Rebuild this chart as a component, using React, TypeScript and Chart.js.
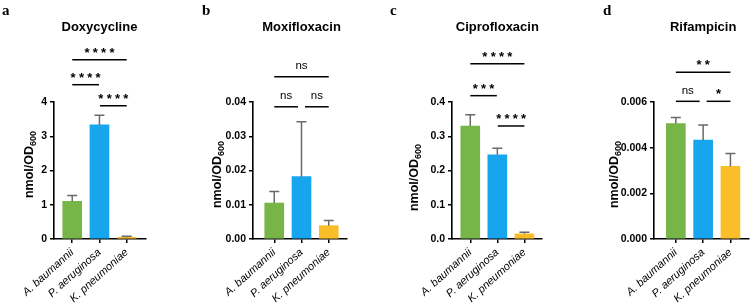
import React, { useEffect, useRef } from "react";
import { Chart, registerables } from "chart.js";

Chart.register(...registerables);

// ---------- data ----------
const CATEGORIES = ["A. baumannii", "P. aeruginosa", "K. pneumoniae"];
const BAR_COLORS = ["#78B548", "#17A5EE", "#FBBE2B"];

const DOXY_MEAN = [1.1, 3.33, 0.05];
const DOXY_SD = [0.17, 0.28, 0.03];
const DOXY_TICKS = [0, 1, 2, 3, 4];

const MOXI_MEAN = [0.0105, 0.0182, 0.0039];
const MOXI_SD = [0.0034, 0.016, 0.0015];
const MOXI_TICKS = [0, 0.01, 0.02, 0.03, 0.04];

const CIPRO_MEAN = [0.33, 0.246, 0.015];
const CIPRO_SD = [0.033, 0.019, 0.005];
const CIPRO_TICKS = [0, 0.1, 0.2, 0.3, 0.4];

const RIF_MEAN = [0.00506, 0.00433, 0.00318];
const RIF_SD = [0.00026, 0.00066, 0.00056];
const RIF_TICKS = [0, 0.002, 0.004, 0.006];

// significance brackets: [from, to, level (data units), label]
const DOXY_SIG: [number, number, number, string][] = [
  [0, 2, 5.235, "****"],
  [0, 1, 4.505, "****"],
  [1, 2, 3.89, "****"],
];
const MOXI_SIG: [number, number, number, string][] = [
  [0, 2, 0.0474, "ns"],
  [0, 1, 0.0386, "ns"],
  [1, 2, 0.0386, "ns"],
];
const CIPRO_SIG: [number, number, number, string][] = [
  [0, 2, 0.512, "****"],
  [0, 1, 0.4185, "***"],
  [1, 2, 0.33, "****"],
];
const RIF_SIG: [number, number, number, string][] = [
  [0, 2, 0.0073, "**"],
  [0, 1, 0.00603, "ns"],
  [1, 2, 0.00603, "*"],
];

const FONT = "'Liberation Sans', Arial, Helvetica, sans-serif";

type PanelCfg = {
  letter: string;
  title: string;
  mean: number[];
  sd: number[];
  ticks: number[];
  decimals: number;
  sig: [number, number, number, string][];
  left: number;
  width: number;
  yW: number;
  padRight: number;
  xMin: number;
  xMax: number;
  letterX: number;
  titleOffset: number;
  titleDy: number;
  gap: number;
};

const PANELS: PanelCfg[] = [
  {
    letter: "a", title: "Doxycycline", mean: DOXY_MEAN, sd: DOXY_SD, ticks: DOXY_TICKS, decimals: 0, sig: DOXY_SIG,
    left: 0, width: 190, yW: 54, padRight: 44, xMin: -0.67, xMax: 2.71, letterX: 2, titleOffset: 24, titleDy: -6, gap: 1,
  },
  {
    letter: "b", title: "Moxifloxacin", mean: MOXI_MEAN, sd: MOXI_SD, ticks: MOXI_TICKS, decimals: 2, sig: MOXI_SIG,
    left: 190, width: 190, yW: 63, padRight: 33, xMin: -0.78, xMax: 2.67, letterX: 12, titleOffset: 35, titleDy: 4, gap: 7,
  },
  {
    letter: "c", title: "Ciprofloxacin", mean: CIPRO_MEAN, sd: CIPRO_SD, ticks: CIPRO_TICKS, decimals: 1, sig: CIPRO_SIG,
    left: 380, width: 190, yW: 72, padRight: 28, xMin: -0.675, xMax: 2.65, letterX: 10, titleOffset: 37, titleDy: 7, gap: 1,
  },
  {
    letter: "d", title: "Rifampicin", mean: RIF_MEAN, sd: RIF_SD, ticks: RIF_TICKS, decimals: 3, sig: RIF_SIG,
    left: 570, width: 181, yW: 84, padRight: 2, xMin: -0.8, xMax: 2.68, letterX: 33, titleOffset: 39, titleDy: 4, gap: 7,
  },
];

function makeDeco(p: PanelCfg) {
  return {
    id: "deco_" + p.letter,
    afterDraw(chart: any) {
      const { ctx, chartArea } = chart;
      const xs = chart.scales.x;
      const ys = chart.scales.y;
      ctx.save();

      // error bars
      ctx.strokeStyle = "#6a6a6a";
      ctx.lineWidth = 1.5;
      p.mean.forEach((m, i) => {
        const px = xs.getPixelForValue(i);
        const yt = ys.getPixelForValue(m);
        const ye = ys.getPixelForValue(m + p.sd[i]);
        ctx.beginPath();
        ctx.moveTo(px, yt);
        ctx.lineTo(px, ye);
        ctx.moveTo(px - 5, ye);
        ctx.lineTo(px + 5, ye);
        ctx.stroke();
      });

      // significance brackets
      ctx.strokeStyle = "#000";
      ctx.fillStyle = "#000";
      ctx.lineWidth = 1.5;
      p.sig.forEach(([from, to, level, label]) => {
        let x1 = xs.getPixelForValue(from);
        let x2 = xs.getPixelForValue(to);
        if (to - from === 1) {
          if (from === 1) x1 += p.gap / 2;
          if (to === 1) x2 -= p.gap / 2;
        }
        const yl = ys.getPixelForValue(level);
        ctx.beginPath();
        ctx.moveTo(x1, yl);
        ctx.lineTo(x2, yl);
        ctx.stroke();
        const cx = (x1 + x2) / 2;
        const ty = yl - 10.5;
        if (label === "ns") {
          ctx.font = `11.5px ${FONT}`;
          ctx.textAlign = "center";
          ctx.textBaseline = "alphabetic";
          ctx.fillText(label, cx, ty + 3);
        } else {
          ctx.font = `bold 13px ${FONT}`;
          ctx.textAlign = "center";
          ctx.textBaseline = "alphabetic";
          const n = label.length;
          for (let k = 0; k < n; k++) {
            const sx = cx + (k - (n - 1) / 2) * 8.3;
            ctx.fillText("*", sx, ty + 7.5);
          }
        }
      });

      // panel title
      ctx.font = `bold 13px ${FONT}`;
      ctx.textAlign = "center";
      ctx.textBaseline = "middle";
      ctx.fillText(p.title, xs.getPixelForValue(1), 27);

      // panel letter
      ctx.font = `bold 15px 'Liberation Serif', 'Times New Roman', serif`;
      ctx.textAlign = "left";
      ctx.textBaseline = "alphabetic";
      ctx.fillText(p.letter, p.letterX, 15);

      // y-axis title with subscript
      const tx = chartArea.left - p.titleOffset;
      const ty = (chartArea.top + chartArea.bottom) / 2 + p.titleDy;
      ctx.translate(tx, ty);
      ctx.rotate(-Math.PI / 2);
      const mainFont = `bold 12.5px ${FONT}`;
      const subFont = `bold 9px ${FONT}`;
      ctx.font = mainFont;
      const w1 = ctx.measureText("nmol/OD").width;
      ctx.font = subFont;
      const w2 = ctx.measureText("600").width;
      const start = -(w1 + w2) / 2;
      ctx.textAlign = "left";
      ctx.textBaseline = "middle";
      ctx.font = mainFont;
      ctx.fillText("nmol/OD", start, 0);
      ctx.font = subFont;
      ctx.fillText("600", start + w1, 3.5);

      ctx.restore();
    },
  };
}

function Panel({ p }: { p: PanelCfg }) {
  const ref = useRef<HTMLCanvasElement | null>(null);
  useEffect(() => {
    if (!ref.current) return;
    const gridOpts = {
      display: true,
      drawOnChartArea: false,
      drawTicks: true,
      tickLength: 4,
      color: "#000",
      lineWidth: 1.5,
      offset: false,
    };
    const borderOpts = { display: true, color: "#000", width: 1.6 };
    const chart = new Chart(ref.current, {
      type: "bar",
      data: {
        datasets: [
          {
            data: p.mean.map((v, i) => ({ x: i, y: v })),
            backgroundColor: BAR_COLORS,
            borderWidth: 0,
            barThickness: 19,
          } as any,
        ],
      },
      options: {
        responsive: false,
        animation: false,
        devicePixelRatio: 1,
        layout: { padding: { top: 102, right: p.padRight, bottom: 0, left: 0 } },
        plugins: {
          legend: { display: false },
          tooltip: { enabled: false },
          title: { display: false },
        },
        scales: {
          x: {
            type: "linear",
            offset: false,
            min: p.xMin,
            max: p.xMax,
            bounds: "data",
            afterBuildTicks: (s: any) => {
              s.ticks = CATEGORIES.map((_, i) => ({ value: i }));
            },
            afterFit: (s: any) => {
              s.height = 66;
            },
            grid: gridOpts,
            border: borderOpts,
            ticks: {
              autoSkip: false,
              minRotation: 42,
              maxRotation: 42,
              padding: 3,
              color: "#000",
              font: { family: FONT, size: 11, style: "italic" },
              callback: (v: any) => CATEGORIES[Math.round(Number(v))] ?? "",
            },
          },
          y: {
            type: "linear",
            min: p.ticks[0],
            max: p.ticks[p.ticks.length - 1],
            bounds: "data",
            afterBuildTicks: (s: any) => {
              s.ticks = p.ticks.map((v) => ({ value: v }));
            },
            afterFit: (s: any) => {
              s.width = p.yW;
            },
            grid: gridOpts,
            border: borderOpts,
            ticks: {
              color: "#000",
              padding: 3,
              font: { family: FONT, size: 10.5, weight: "bold" },
              callback: (v: any) => Number(v).toFixed(p.decimals),
            },
          },
        },
      } as any,
      plugins: [makeDeco(p)],
    });
    return () => chart.destroy();
  }, [p]);
  return (
    <canvas
      ref={ref}
      width={p.width}
      height={305}
      style={{ position: "absolute", left: p.left, top: 0, width: p.width, height: 305 }}
    />
  );
}

export default function App() {
  return (
    <div style={{ position: "fixed", left: 0, top: 0, width: 751, height: 305, background: "#fff" }}>
      {PANELS.map((p) => (
        <Panel key={p.letter} p={p} />
      ))}
    </div>
  );
}
